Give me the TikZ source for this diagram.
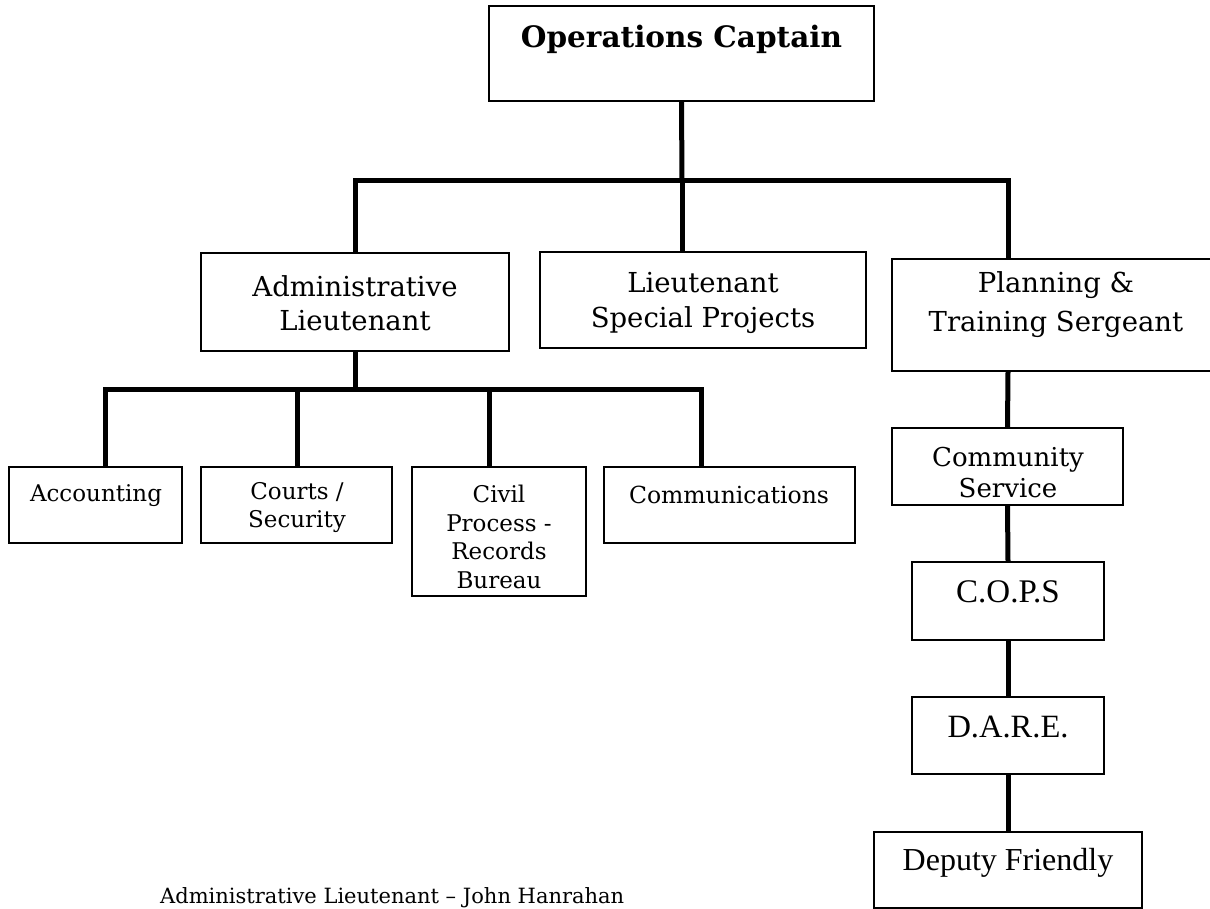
\documentclass[tikz,border=0pt]{standalone}
\usepackage{fontspec}
\setmainfont{DejaVu Serif}
\newfontfamily\timesf{Liberation Serif}
\tikzset{
  box/.style={draw=black, line width=1.5pt, fill=white, inner sep=0pt},
  conn/.style={draw=black, line width=5pt},
  lbl/.style={align=center, inner sep=0pt},
}
\begin{document}
\begin{tikzpicture}[x=1pt,y=-1pt]
\useasboundingbox (0,0) rectangle (1210,909);
\fill[white] (0,0) rectangle (1210,909);

% junction coordinates
\coordinate (j0) at (682,181);
\coordinate (jL) at (355,181);
\coordinate (jR) at (1008,181);
\coordinate (s1) at (105,389);
\coordinate (s2) at (297,389);
\coordinate (s3) at (489,389);
\coordinate (s4) at (701,389);

% boxes
\node[box, minimum width=385pt, minimum height=95pt] (ops) at (681.5,53.5) {};
\node[box, minimum width=308pt, minimum height=98pt] (adm) at (355,302) {};
\node[box, minimum width=326pt, minimum height=96pt] (ltsp) at (703,300) {};
\node[box, minimum width=328pt, minimum height=112pt] (plan) at (1056,315) {};
\node[box, minimum width=173pt, minimum height=76pt] (acc) at (95.5,505) {};
\node[box, minimum width=191pt, minimum height=76pt] (crt) at (296.5,505) {};
\node[box, minimum width=174pt, minimum height=129pt] (civ) at (499,531.5) {};
\node[box, minimum width=251pt, minimum height=76pt] (com) at (729.5,505) {};
\node[box, minimum width=231pt, minimum height=77pt] (cmty) at (1007.5,466.5) {};
\node[box, minimum width=192pt, minimum height=78pt] (cops) at (1008,601) {};
\node[box, minimum width=192pt, minimum height=77pt] (dare) at (1008,735.5) {};
\node[box, minimum width=268pt, minimum height=76pt] (dep) at (1008,870) {};

% connectors
\draw[conn] (ops.south) -- (j0);
\draw[conn] (adm.north) -- (jL) -- (jR) -- (jR |- plan.north);
\draw[conn] (j0) -- (j0 |- ltsp.north);
\draw[conn] (adm.south) -- (adm.south |- s1);
\draw[conn] (s1 |- acc.north) -- (s1) -- (s4) -- (s4 |- com.north);
\draw[conn] (s2) -- (s2 |- crt.north);
\draw[conn] (s3) -- (s3 |- civ.north);
\draw[conn] (jR |- plan.south) -- (cmty.north);
\draw[conn] (cmty.south) -- (cops.north);
\draw[conn] (cops.south) -- (dare.north);
\draw[conn] (dare.south) -- (dep.north);

% texts
\node[lbl, font=\fontsize{29.5}{34}\selectfont\bfseries] (opsT) at (681.5,39.5) {Operations Captain};
\node[lbl, font=\fontsize{27.5}{34}\selectfont] (admT) at (355,303) {Administrative\\Lieutenant};
\node[lbl, font=\fontsize{27.5}{35}\selectfont] (ltspT) at (703,303) {Lieutenant\\Special Projects};
\node[lbl, font=\fontsize{27.5}{39}\selectfont] (planT) at (1056,305) {Planning \&\\Training Sergeant};
\node[lbl, font=\fontsize{23}{28}\selectfont] (accT) at (96,496) {Accounting};
\node[lbl, font=\fontsize{23}{28}\selectfont] (crtT) at (297,508) {Courts /\\Security};
\node[lbl, font=\fontsize{23}{28.5}\selectfont] (civT) at (499,537) {Civil\\Process -\\Records\\Bureau};
\node[lbl, font=\fontsize{23.5}{28}\selectfont] (comT) at (729,495) {Communications};
\node[lbl, font=\fontsize{26}{31}\selectfont] (cmtyT) at (1008,473) {Community\\Service};
\node[lbl, font=\fontsize{33}{36}\selectfont\timesf] (copsT) at (1008,592) {C.O.P.S};
\node[lbl, font=\fontsize{32.5}{36}\selectfont\timesf] (dareT) at (1008,726.5) {D.A.R.E.};
\node[lbl, font=\fontsize{32}{36}\selectfont\timesf] (depT) at (1008,862.5) {Deputy Friendly};
\node[anchor=base west, inner sep=0pt, font=\fontsize{21}{24}\selectfont] (foot) at (160,903) {Administrative Lieutenant – John Hanrahan};
\end{tikzpicture}
\end{document}
